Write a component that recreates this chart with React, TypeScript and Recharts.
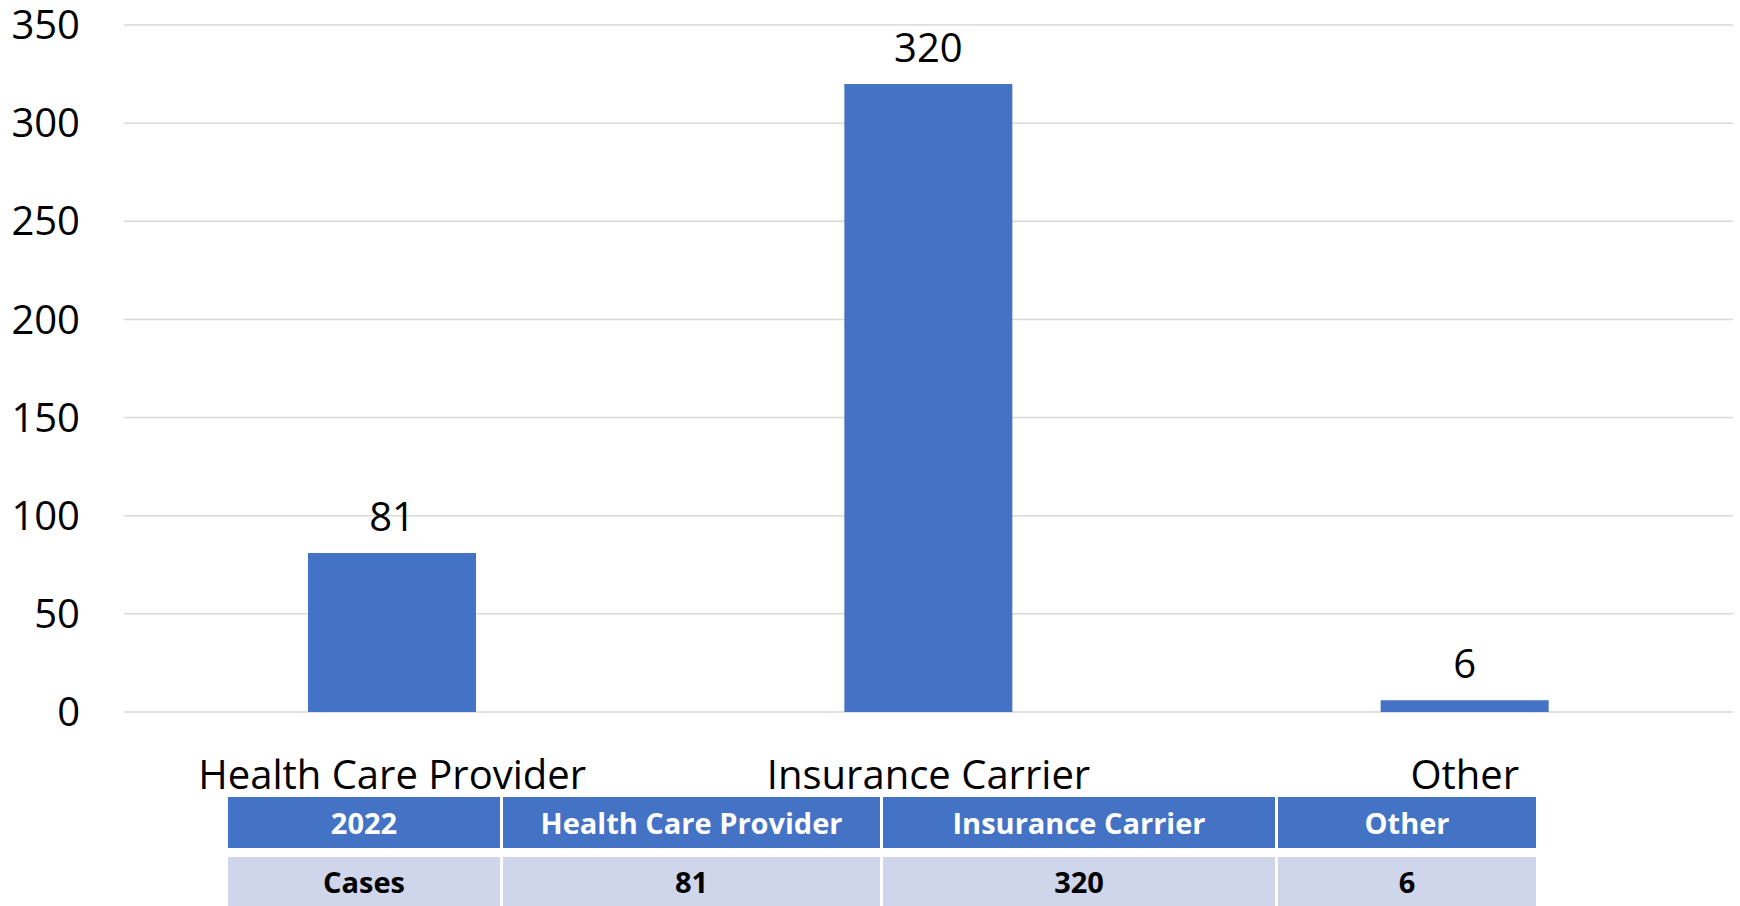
import { BarChart, Bar, XAxis, YAxis, CartesianGrid, LabelList } from 'recharts';

const categories = ['Health Care Provider', 'Insurance Carrier', 'Other'];
const cases = [81, 320, 6];
const yTicks = [0, 50, 100, 150, 200, 250, 300, 350];
const tableCorner = '2022';
const seriesName = 'Cases';

const BLUE = '#4472C4';
const LIGHT = '#CFD5EA';
const FONT = "'Open Sans', sans-serif";

// column widths of the data table under the chart
const colWidths = [272, 377, 392, 258];

const data = categories.map((name, i) => ({ name, cases: cases[i] }));

function DataTable() {
  const cell = (bg: string, color: string, h: number): React.CSSProperties => ({
    background: bg,
    color,
    height: h,
    display: 'flex',
    alignItems: 'center',
    justifyContent: 'center',
    fontWeight: 700,
    fontSize: 29,
    whiteSpace: 'nowrap',
  });
  return (
    <div
      style={{
        position: 'absolute',
        left: 228,
        top: 797,
        display: 'grid',
        gridTemplateColumns: colWidths.map((w) => `${w}px`).join(' '),
        columnGap: 3,
        rowGap: 9,
        fontFamily: FONT,
      }}
    >
      <div style={cell(BLUE, '#fff', 51)}>{tableCorner}</div>
      {categories.map((c) => (
        <div key={c} style={cell(BLUE, '#fff', 51)}>{c}</div>
      ))}
      <div style={cell(LIGHT, '#000', 49)}>{seriesName}</div>
      {cases.map((v, i) => (
        <div key={i} style={cell(LIGHT, '#000', 49)}>{v}</div>
      ))}
    </div>
  );
}

export default function App() {
  return (
    <div style={{ position: 'relative', width: 1740, height: 906, fontFamily: FONT, overflow: 'hidden' }}>
      <style>{'body{margin:0}'}</style>
      <BarChart width={1740} height={906} data={data} margin={{ top: 25, right: 7, left: 0, bottom: 134 }}>
        <CartesianGrid vertical={false} stroke="#D9D9D9" strokeWidth={1.5} />
        <XAxis
          dataKey="name"
          axisLine={false}
          tickLine={false}
          tickSize={0}
          tickMargin={49}
          height={60}
          interval={0}
          tick={{ fontSize: 40, fill: '#000' }}
        />
        <YAxis
          domain={[0, 350]}
          ticks={yTicks}
          axisLine={false}
          tickLine={false}
          tickSize={0}
          tickMargin={44}
          width={124}
          tick={{ fontSize: 40, fill: '#000' }}
        />
        <Bar dataKey="cases" fill={BLUE} barSize={168} isAnimationActive={false}>
          <LabelList dataKey="cases" position="top" offset={22} fontSize={40} fill="#000" />
        </Bar>
      </BarChart>
      <DataTable />
    </div>
  );
}
